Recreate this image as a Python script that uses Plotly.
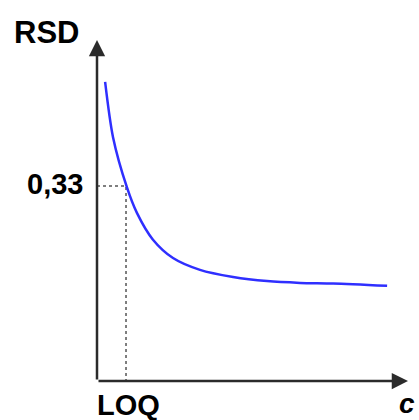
import plotly.graph_objects as go

# Data
c_vals = [0.28, 0.55, 1.03, 1.38, 1.93, 2.62, 3.55, 4.69, 5.86, 7.0, 8.14, 10.0]
rsd_vals = [0.506, 0.413, 0.328, 0.284, 0.239, 0.208, 0.188, 0.176, 0.169, 0.166, 0.165, 0.161]
loq_c = 1.0
loq_rsd = 0.33
x_max = 10.72
y_max = 0.577

FONT = "Arial, Liberation Sans, sans-serif"
AXIS_COL = "#2b2b2b"

fig = go.Figure()

# dotted guide lines to LOQ
fig.add_trace(go.Scatter(
    x=[0, loq_c, loq_c], y=[loq_rsd, loq_rsd, 0],
    mode="lines", line=dict(color="#555555", width=1.5, dash="dot"),
    hoverinfo="skip", showlegend=False))

# RSD curve
fig.add_trace(go.Scatter(
    x=c_vals, y=rsd_vals, mode="lines",
    line=dict(color="#2f2fff", width=2.5, shape="spline", smoothing=0.8),
    showlegend=False))

# axes as arrows
fig.add_annotation(x=x_max, y=0, ax=0, ay=0, xref="x", yref="y", axref="x", ayref="y",
                   showarrow=True, arrowhead=2, arrowsize=1.3, arrowwidth=2.5,
                   arrowcolor=AXIS_COL, text="", standoff=0)
fig.add_annotation(x=0, y=y_max, ax=0, ay=0, xref="x", yref="y", axref="x", ayref="y",
                   showarrow=True, arrowhead=2, arrowsize=1.3, arrowwidth=2.5,
                   arrowcolor=AXIS_COL, text="", standoff=0)

fig.add_annotation(x=0, y=y_max, xref="x", yref="y", text="<b>RSD</b>",
                   showarrow=False, xanchor="right", yanchor="middle",
                   xshift=-16, yshift=8, font=dict(family=FONT, size=31, color="black"))
fig.add_annotation(x=0, y=loq_rsd, xref="x", yref="y", text="<b>0,33</b>",
                   showarrow=False, xanchor="right", yanchor="middle",
                   xshift=-12, yshift=2, font=dict(family=FONT, size=29, color="black"))
fig.add_annotation(x=loq_c, y=0, xref="x", yref="y", text="<b>LOQ</b>",
                   showarrow=False, xanchor="center", yanchor="top",
                   xshift=2, yshift=-6, font=dict(family=FONT, size=29, color="black"))
fig.add_annotation(x=x_max, y=0, xref="x", yref="y", text="<b><i>c</i></b>",
                   showarrow=False, xanchor="right", yanchor="top",
                   xshift=9, yshift=-5, font=dict(family=FONT, size=28, color="black"))

fig.update_xaxes(range=[0, x_max], visible=False, fixedrange=True)
fig.update_yaxes(range=[0, y_max], visible=False, fixedrange=True)
fig.update_layout(width=419, height=420,
                  margin=dict(l=97, r=11, t=40, b=39),
                  paper_bgcolor="white", plot_bgcolor="white",
                  showlegend=False)

fig.write_html("out.html", config={"displayModeBar": False},
               post_script="document.body.style.margin='0';document.body.style.overflow='hidden';")
